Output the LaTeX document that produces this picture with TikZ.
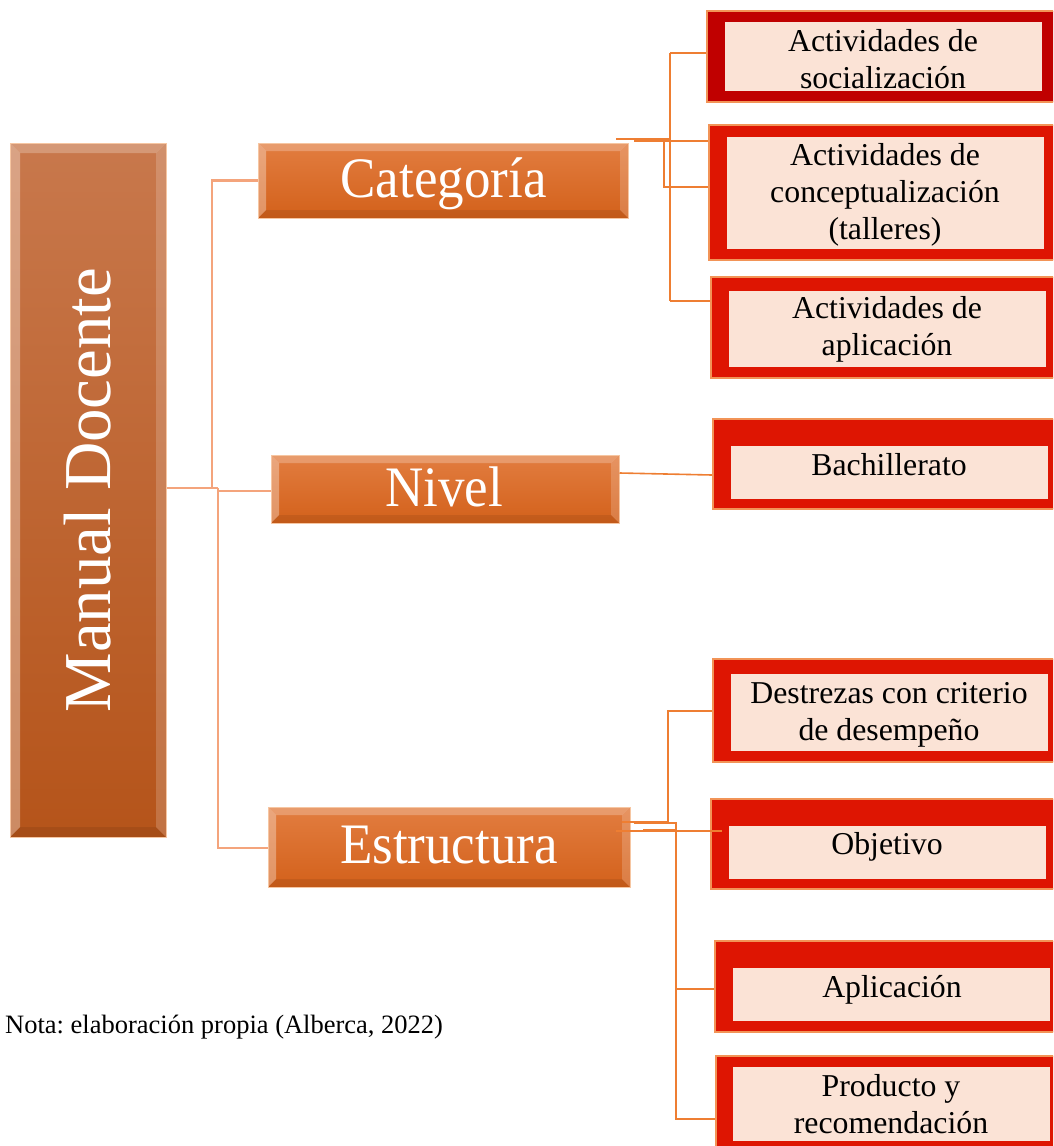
\documentclass[tikz,border=0pt]{standalone}
\usepackage{fontspec}
\setmainfont{Liberation Serif}
\frenchspacing
\definecolor{mainTop}{HTML}{C8784C}
\definecolor{mainBot}{HTML}{B5541A}
\definecolor{catTop}{HTML}{E27D40}
\definecolor{catBot}{HTML}{D3611B}
\definecolor{boxEdge}{HTML}{F6C6A2}
\definecolor{darkred}{HTML}{C00000}
\definecolor{brightred}{HTML}{DE1502}
\definecolor{pinkfill}{HTML}{FBE3D6}
\definecolor{edgeor}{HTML}{F29457}
\definecolor{rline}{HTML}{EE7E32}
\definecolor{lline}{HTML}{F4A47C}
\tikzset{
  bevel/.style={path picture={
    \coordinate (pnw) at (path picture bounding box.north west);
    \coordinate (pne) at (path picture bounding box.north east);
    \coordinate (psw) at (path picture bounding box.south west);
    \coordinate (pse) at (path picture bounding box.south east);
    \fill[white,opacity=.24] (pnw)--(pne)--([xshift=-#1pt,yshift=-#1pt]pne)--([xshift=#1pt,yshift=-#1pt]pnw)--cycle;
    \fill[white,opacity=.32] (pnw)--([xshift=#1pt,yshift=-#1pt]pnw)--([xshift=#1pt,yshift=#1pt]psw)--(psw)--cycle;
    \fill[white,opacity=.18] (pne)--([xshift=-#1pt,yshift=-#1pt]pne)--([xshift=-#1pt,yshift=#1pt]pse)--(pse)--cycle;
    \fill[black,opacity=.08] (psw)--([xshift=#1pt,yshift=#1pt]psw)--([xshift=-#1pt,yshift=#1pt]pse)--(pse)--cycle;
  }},
  mainbox/.style={rectangle, inner sep=0pt, top color=mainTop, bottom color=mainBot, draw=boxEdge, line width=1pt, bevel=10},
  catbox/.style={rectangle, inner sep=0pt, top color=catTop, bottom color=catBot, draw=boxEdge, line width=1pt, bevel=8},
  cattext/.style={inner sep=0pt, text=white, font=\fontsize{53}{60}\selectfont},
  outerbox/.style={rectangle, inner sep=0pt, draw=edgeor, line width=2.2pt, fill=brightred},
  innerbox/.style={rectangle, inner sep=0pt, fill=pinkfill},
  boxtext/.style={inner sep=0pt, font=\fontsize{31.8}{37}\selectfont},
  lconn/.style={draw=lline, line width=2.6pt},
  rconn/.style={draw=rline, line width=1.6pt},
}
\newcommand{\lines}[1]{\begin{tabular}[t]{@{}c@{}}#1\end{tabular}}
\begin{document}
\begin{tikzpicture}[x=1pt,y=-1pt]
\useasboundingbox (0,0) rectangle (1053,1146);

% left tree
\node[mainbox, minimum width=156pt, minimum height=694pt] (manual) at (88,490) {};
\node[cattext, rotate=90, anchor=base, font=\fontsize{67}{75}\selectfont] (manT) at (110,490) {Manual Docente};

\node[catbox, minimum width=370pt, minimum height=75pt] (cat) at (443,180.5) {};
\node[catbox, minimum width=348pt, minimum height=68pt] (niv) at (445,489) {};
\node[catbox, minimum width=362pt, minimum height=80pt] (est) at (449,847) {};
\node[cattext, anchor=base] (catT) at (443.5,197) {\scalebox{1}[1.08]{Categoría}};
\node[cattext, anchor=base] (nivT) at (444,506) {\scalebox{1}[1.08]{Nivel}};
\node[cattext, anchor=base] (estT) at (449,863) {\scalebox{1}[1.08]{Estructura}};

% right boxes
\begin{scope}
\clip (0,0) rectangle (1053,1146);
\node[outerbox, fill=darkred, minimum width=353pt, minimum height=91pt] (o1) at (883.5,56.5) {};
\node[outerbox, minimum width=351pt, minimum height=135pt] (o2) at (884.5,192.5) {};
\node[outerbox, minimum width=349pt, minimum height=101pt] (o3) at (885.5,327.5) {};
\node[outerbox, minimum width=347pt, minimum height=90pt] (o4) at (886.5,464) {};
\node[outerbox, minimum width=347pt, minimum height=103pt] (o5) at (886.5,710.5) {};
\node[outerbox, minimum width=349pt, minimum height=90pt] (o6) at (885.5,844) {};
\node[outerbox, minimum width=345pt, minimum height=91pt] (o7) at (887.5,986.5) {};
\node[outerbox, minimum width=344pt, minimum height=96pt] (o8) at (888,1104) {};
\end{scope}
\node[innerbox, minimum width=317pt, minimum height=69pt] (i1) at (883.5,56.5) {};
\node[innerbox, minimum width=317pt, minimum height=112pt] (i2) at (885.5,193) {};
\node[innerbox, minimum width=317pt, minimum height=76pt] (i3) at (887.5,329) {};
\node[innerbox, minimum width=317pt, minimum height=53pt] (i4) at (889.5,472.5) {};
\node[innerbox, minimum width=317pt, minimum height=77pt] (i5) at (889.5,712.5) {};
\node[innerbox, minimum width=317pt, minimum height=53pt] (i6) at (887.5,852.5) {};
\node[innerbox, minimum width=317pt, minimum height=53pt] (i7) at (891.5,994.5) {};
\node[innerbox, minimum width=317pt, minimum height=74pt] (i8) at (891.5,1104) {};

\node[boxtext, anchor=base] (t1) at (883,51) {\lines{Actividades de\\socialización}};
\node[boxtext, anchor=base] (t2) at (885,165) {\lines{Actividades de\\conceptualización\\(talleres)}};
\node[boxtext, anchor=base] (t3) at (887,318) {\lines{Actividades de\\aplicación}};
\node[boxtext, anchor=base] (t4) at (889,475) {Bachillerato};
\node[boxtext, anchor=base] (t5) at (889,703) {\lines{Destrezas con criterio\\de desempeño}};
\node[boxtext, anchor=base] (t6) at (887,854) {Objetivo};
\node[boxtext, anchor=base] (t7) at (892,997) {Aplicación};
\node[boxtext, anchor=base] (t8) at (891,1096) {\lines{Producto y\\recomendación}};

% left connectors
\coordinate (j1) at (212,488);
\coordinate (j2) at (218,488);
\draw[lconn] (manual.east |- 0,488) -- (j2);
\draw[lconn] (j1) |- (cat.west);
\draw[lconn] (j2) -- (218,491) -- (niv.west |- 0,491);
\draw[lconn] (j2) |- (est.west |- 0,848);

% Categoria connectors
\coordinate (cA) at (616,139);
\coordinate (cB) at (634,141);
\coordinate (cV) at (670,139);
\draw[rconn] (cA) -- (cV);
\draw[rconn] (670,53) -- (670,301);
\draw[rconn] (670,53) -- (o1.west |- 0,53);
\draw[rconn] (670,301) -- (o3.west |- 0,301);
\draw[rconn] (cB) -- (o2.west |- 0,141);
\draw[rconn] (664,141) |- (o2.west |- 0,187);

% Nivel connector
\draw[rconn] (niv.east |- 0,473) -- (o4.west |- 0,475);

% Estructura connectors
\coordinate (eA) at (622,822);
\coordinate (eB) at (634,823);
\draw[rconn] (eA) -| (668,711) -- (o5.west |- 0,711);
\draw[rconn] (eB) -| (676,1119) -- (o8.west |- 0,1119);
\draw[rconn] (676,989) -- (o7.west |- 0,989);
\draw[rconn] (643,830) -- (676,830);
\draw[rconn] (616,831) -- (722,831);

% note
\node[anchor=base west, inner sep=0pt, font=\fontsize{26.5}{30}\selectfont] (nota) at (5,1033) {Nota: elaboración propia (Alberca, 2022)};
\end{tikzpicture}
\end{document}
